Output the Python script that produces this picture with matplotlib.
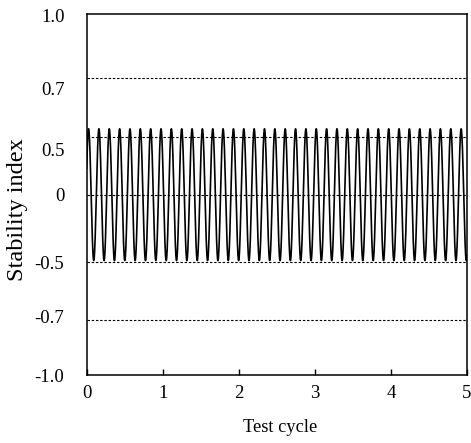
import numpy as np
import matplotlib
matplotlib.use("Agg")
import matplotlib.pyplot as plt

plt.rcParams['font.family'] = ['Liberation Serif', 'DejaVu Serif']

# y tick labels (placed where they sit in the original figure)
ytick_pos = [0.99, 0.589, 0.251, 0.0, -0.377, -0.672, -1.0]
ytick_lab = ['1.0', '0.7', '0.5', '0', '-0.5', '-0.7', '-1.0']

# dashed reference levels
ref_levels = [0.645, 0.321, 0.0, -0.371, -0.694]

# x ticks
xtick_pos = [0, 1, 2, 3, 4, 5]

# oscillation
amplitude = 0.365
cycles_per_unit = 7.35
first_peak = 0.025

x = np.linspace(0, 5, 4000)
y = amplitude * np.cos(2 * np.pi * cycles_per_unit * (x - first_peak))

fig = plt.figure(figsize=(4.71, 4.43), dpi=100)
ax = fig.add_axes([0.184, 0.153, 0.8075, 0.815])

for lv in ref_levels:
    ax.axhline(lv, color='black', lw=0.8, ls=(0, (2.2, 1.6)), zorder=1)
ax.plot(x, y, color='black', lw=1.2, zorder=2)

ax.set_xlim(0, 5)
ax.set_ylim(-1.0, 1.0)
ax.set_xticks(xtick_pos)
ax.set_yticks(ytick_pos)
ax.set_yticklabels(ytick_lab)
ax.tick_params(axis='x', direction='in', length=4.5, width=1, pad=7, labelsize=13.5)
ax.tick_params(axis='y', length=0, pad=16, labelsize=13.5)
for s in ax.spines.values():
    s.set_linewidth(1.1)

ax.set_xlabel('Test cycle', fontsize=13.2, va='center')
ax.xaxis.set_label_coords(0.508, -0.146)
ax.set_ylabel('Stability index', fontsize=17.5, va='center')
ax.yaxis.set_label_coords(-0.183, 0.4575)

fig.savefig('out.png', dpi=100)
